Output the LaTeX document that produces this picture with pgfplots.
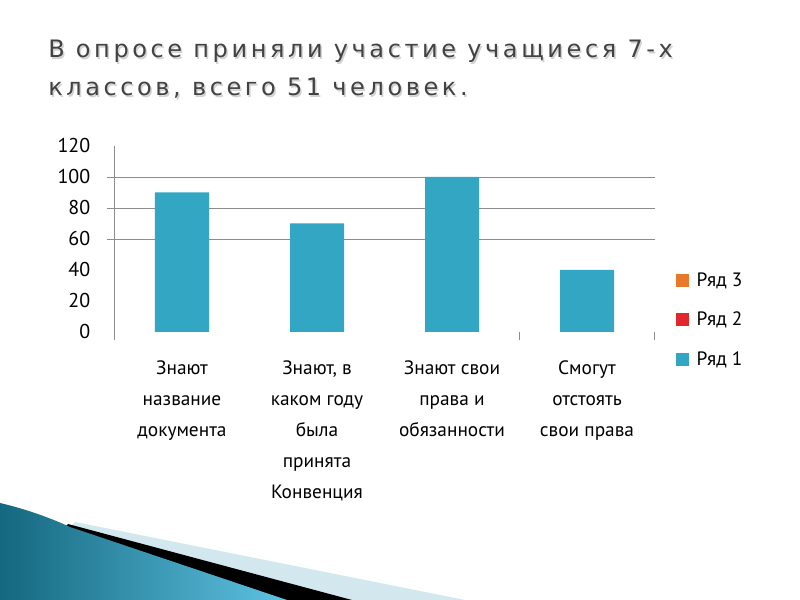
\documentclass[border=0pt]{standalone}
\usepackage{fontspec}
\setmainfont{PT Sans}
\newfontfamily\titlefont[LetterSpace=15]{DejaVu Sans}
\usepackage{pgfplots}
\pgfplotsset{compat=1.18}
\pgfplotsset{sqlegend/.style={legend image code/.code={\fill[##1] (0pt,-4.875pt) rectangle (9.75pt,4.875pt);}}}
\definecolor{barblue}{HTML}{33A6C4}
\definecolor{ser2}{HTML}{E1262D}
\definecolor{ser3}{HTML}{E8792B}
\definecolor{axgray}{HTML}{8C8C8C}
\definecolor{titlegray}{HTML}{424242}
\definecolor{decodark}{HTML}{14687F}
\definecolor{decolight}{HTML}{5EC2E2}
\definecolor{decopale}{HTML}{D3E7EF}
\begin{document}
\begin{tikzpicture}[x=0.75pt,y=0.75pt]
\path[use as bounding box, fill=white] (0,0) rectangle (800,600);
% decoration
\fill[decopale] (75,78) -- (465,0) -- (0,0) -- cycle;
\fill[black] (68,76) -- (352,0) -- (0,0) -- cycle;
\shade[left color=decodark, right color=decolight] (0,97) .. controls (30,90) and (55,80) .. (70,73) -- (287,0) -- (0,0) -- cycle;
% title
\node[anchor=base west, inner sep=0, text=black!18, font=\titlefont\fontsize{18}{20}\selectfont] at (49.5,540.5) {В опросе приняли участие учащиеся 7-х};
\node[anchor=base west, inner sep=0, text=titlegray, font=\titlefont\fontsize{18}{20}\selectfont] at (48,542) {В опросе приняли участие учащиеся 7-х};
\node[anchor=base west, inner sep=0, text=black!18, font=\titlefont\fontsize{18}{20}\selectfont] at (49.5,502.5) {классов, всего 51 человек.};
\node[anchor=base west, inner sep=0, text=titlegray, font=\titlefont\fontsize{18}{20}\selectfont] at (48,504) {классов, всего 51 человек.};
\coordinate (O) at (114.5,268);
\begin{axis}[
  at={(O)}, anchor=south west,
  scale only axis, width=405pt, height=139.7pt,
  xmin=-0.5, xmax=3.5, ymin=0, ymax=120,
  ybar, bar width=40.5pt,
  axis lines=left,
  x axis line style={draw=none},
  y axis line style={draw=axgray, -},
  xtick={0,1,2,3},
  xticklabels={{Знают\\название\\документа},{Знают, в\\каком году\\была\\принята\\Конвенция},{Знают свои\\права и\\обязанности},{Смогут\\отстоять\\свои права}},
  ytick={0,20,...,120},
  major tick length=0pt,
  tick style={draw=axgray},
  extra x ticks={-0.5,2.5,3.5},
  extra x tick labels={},
  extra x tick style={major tick length=6pt, tick align=outside, tick style={draw=axgray}},
  extra y ticks={60,80,100},
  extra y tick labels={},
  extra y tick style={grid=major, major grid style={draw=axgray}, major tick length=5.25pt, tick align=outside, tick style={draw=axgray}},
  /pgf/number format/assume math mode=true,
  yticklabel style={anchor=east, inner sep=0pt, xshift=-18pt, font=\fontsize{15}{16}\selectfont},
  xticklabel style={anchor=north, align=center, inner sep=0pt, yshift=-21pt, font=\fontsize{14.5}{23.25}\selectfont},
  legend style={at={(axis description cs:1.0388,0.0644)}, anchor=west, draw=none, fill=none, inner sep=0pt, font=\fontsize{14.5}{16}\selectfont, row sep=14pt, /tikz/every odd column/.append style={column sep=4pt}},
  legend cell align=left,
  reverse legend,
]
\addplot[fill=barblue, draw=none, bar shift=0pt, sqlegend] coordinates {(0,90) (1,70) (2,100) (3,40)};
\addlegendentry{Ряд 1}
\addlegendimage{fill=ser2, draw=none, sqlegend}
\addlegendentry{Ряд 2}
\addlegendimage{fill=ser3, draw=none, sqlegend}
\addlegendentry{Ряд 3}
\end{axis}
\end{tikzpicture}
\end{document}
